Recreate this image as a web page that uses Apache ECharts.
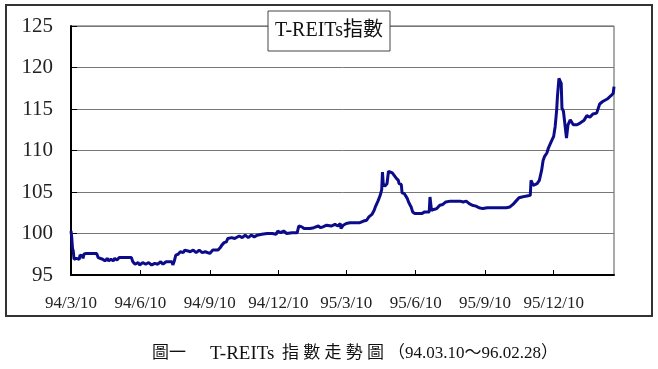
<!DOCTYPE html>
<html>
<head>
<meta charset="utf-8">
<script src="https://cdn.jsdelivr.net/npm/echarts@6/dist/echarts.min.js"></script>
<style>
html,body{margin:0;padding:0;background:#fff;}
#chart{width:658px;height:369px;}
</style>
</head>
<body>
<div id="chart"></div>
<script>
// Day offsets from 94/03/10 and the T-REITs index values
var days = [0,1,2,3,4,7,8,9,11,12,15,16,17,20,34,36,38,42,45,48,50,53,56,58,61,64,80,82,85,89,91,95,99,103,107,111,115,119,122,126,134,135,137,139,142,145,149,151,155,158,162,166,170,174,178,180,184,188,195,198,200,203,206,208,213,217,223,227,231,235,239,243,247,253,260,267,272,274,278,282,286,293,300,302,306,309,317,322,328,331,334,339,345,350,354,357,358,361,365,370,377,383,388,392,395,399,402,404,407,410,412,413,414,416,419,421,423,426,428,431,434,435,438,439,442,444,446,448,451,453,456,460,465,469,475,476,478,481,485,489,493,497,503,509,516,520,524,528,532,537,541,546,552,558,565,571,577,582,586,590,594,598,603,609,610,613,618,621,624,626,628,631,633,635,638,640,642,644,645,647,648,650,651,653,655,657,659,662,664,666,671,675,680,684,688,692,697,699,701,705,711,716,719,720];
var values = [100.3,99.5,98.2,97.9,96.9,97.0,96.8,97.1,96.9,97.4,97.3,97.0,97.5,97.6,97.6,97.1,97.1,96.9,96.7,97.0,96.7,96.9,96.7,97.0,96.8,97.1,97.1,96.6,96.3,96.5,96.2,96.5,96.3,96.5,96.2,96.4,96.3,96.6,96.3,96.6,96.6,96.2,96.7,97.4,97.5,97.8,97.7,98.0,97.9,97.8,98.0,97.7,98.0,97.7,97.8,97.6,97.6,98.0,98.0,98.3,98.6,98.9,99.0,99.4,99.5,99.4,99.7,99.5,99.8,99.5,99.8,99.6,99.8,99.9,100.0,100.0,99.9,100.3,100.1,100.3,100.0,100.1,100.1,100.9,100.8,100.6,100.6,100.7,100.9,100.7,100.8,101.0,100.9,101.1,100.9,101.2,100.6,101.0,101.2,101.3,101.3,101.3,101.5,101.6,102.0,102.3,102.8,103.3,103.9,104.6,105.3,107.4,106.0,105.7,106.0,107.5,107.7,107.3,107.3,106.7,106.4,106.0,105.9,104.9,104.8,104.5,104.2,103.7,103.2,102.6,102.4,102.4,102.4,102.6,102.6,104.4,102.8,102.9,103.0,103.4,103.5,103.8,103.9,103.9,103.9,103.8,103.9,103.6,103.4,103.3,103.1,103.0,103.1,103.1,103.1,103.1,103.1,103.2,103.5,103.9,104.3,104.4,104.5,104.6,106.4,105.8,106.0,106.4,107.6,108.8,109.3,109.7,110.3,110.7,111.3,111.7,112.9,114.9,116.5,118.7,118.8,118.1,115.1,114.7,114.5,111.5,113.1,113.7,113.8,113.1,113.1,113.3,113.6,114.2,114.0,114.4,114.5,114.6,115.6,115.9,116.2,116.6,116.9,117.7];
var tickDays = [0,92,184,275,365,457,549,640];
var tickLabels = ['94/3/10','94/6/10','94/9/10','94/12/10','95/3/10','95/6/10','95/9/10','95/12/10'];
var chartTitle = 'T-REITs指數';
var caption = ['圖一','T-REITs','指 數 走 勢 圖','（94.03.10～96.02.28）'];

var serif = '"Liberation Serif","Times New Roman","Noto Sans CJK TC",serif';
var seriesData = days.map(function(d,i){return [d, values[i]];});

var chart = echarts.init(document.getElementById('chart'), null, {renderer:'canvas'});
chart.setOption({
  animation:false,
  backgroundColor:'#fff',
  grid:{left:71,right:44,top:26,bottom:94,show:true,borderColor:'#555',borderWidth:1,containLabel:false},
  xAxis:{
    type:'value',min:0,max:720,
    axisLine:{show:true,onZero:false,lineStyle:{color:'#000',width:2}},
    axisTick:{show:true,inside:true,length:5,lineStyle:{color:'#000',width:1},customValues:tickDays},
    axisLabel:{show:true,margin:20,color:'#222',fontFamily:serif,fontSize:17,customValues:tickDays,
      formatter:function(v){var i=tickDays.indexOf(v);return i>=0?tickLabels[i]:'';}},
    splitLine:{show:false}
  },
  yAxis:{
    type:'value',min:95,max:125,interval:5,
    axisLine:{show:true,lineStyle:{color:'#000',width:2}},
    axisTick:{show:true,inside:true,length:6,lineStyle:{color:'#000',width:1}},
    axisLabel:{show:true,margin:18,color:'#222',fontFamily:serif,fontSize:21},
    splitLine:{show:true,lineStyle:{color:'#777',width:1}}
  },
  series:[{
    type:'line',data:seriesData,showSymbol:false,symbol:'none',
    lineStyle:{color:'#0c0c8a',width:3},
    z:5
  }],
  graphic:[
    {type:'rect',shape:{x:6,y:5,width:646,height:311},style:{fill:'none',stroke:'#333',lineWidth:2},z:1,silent:true},
    {type:'rect',shape:{x:268,y:11,width:122,height:40},style:{fill:'#fff',stroke:'#444',lineWidth:1},z:10},
    {type:'text',x:329,y:31,style:{text:chartTitle,fill:'#111',font:'20px '+serif,align:'center',verticalAlign:'middle'},z:11},
    {type:'text',x:152,y:354,style:{text:caption[0],fill:'#111',font:'17px '+serif,align:'left',verticalAlign:'middle'},z:11},
    {type:'text',x:210,y:354,style:{text:caption[1],fill:'#111',font:'19px '+serif,align:'left',verticalAlign:'middle'},z:11},
    {type:'text',x:282,y:354,style:{text:caption[2],fill:'#111',font:'17px '+serif,align:'left',verticalAlign:'middle'},z:11},
    {type:'text',x:388,y:354,style:{text:caption[3],fill:'#111',font:'17px '+serif,align:'left',verticalAlign:'middle'},z:11}
  ]
});
</script>
</body>
</html>
